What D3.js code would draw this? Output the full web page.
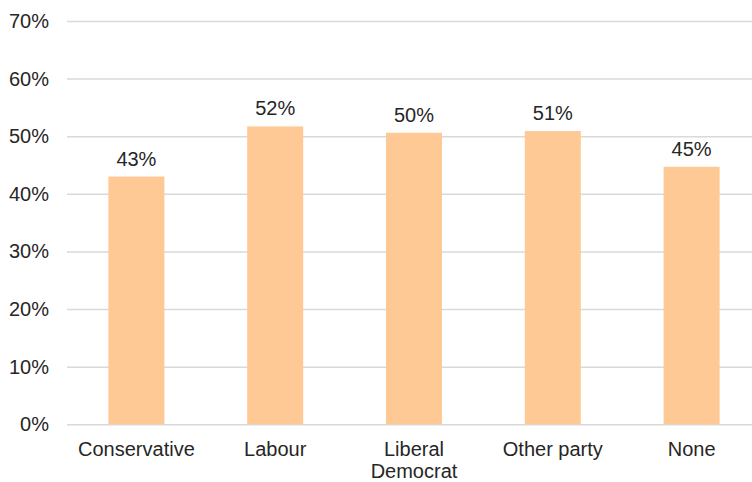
<!DOCTYPE html>
<html><head><meta charset="utf-8">
<script src="https://cdn.jsdelivr.net/npm/d3@7"></script>
<style>body{margin:0;background:#fff;}svg{display:block;font-family:"Liberation Sans",Arial,sans-serif;}</style>
</head><body><svg id="c" width="752" height="482"></svg>
<script>
const categories = [["Conservative"], ["Labour"], ["Liberal", "Democrat"], ["Other party"], ["None"]];
const values = [0.430, 0.517, 0.506, 0.509, 0.447];
const valueLabels = ["43%", "52%", "50%", "51%", "45%"];
const yTicks = [0, 0.1, 0.2, 0.3, 0.4, 0.5, 0.6, 0.7];

(function () {
const svg = d3.select("#c");
const mLeft = 67, mRight = 761, mTop = 21, mBottom = 424.3;
const fs = 20, col = "#262626";
const keys = categories.map(c => c.join(" "));
const x = d3.scaleBand().domain(keys).range([mLeft, mRight]).paddingInner(0.4).paddingOuter(0.2);
const y = d3.scaleLinear().domain([0, 0.7]).range([mBottom, mTop]);

const ya = svg.append("g").attr("transform", `translate(${mLeft},0)`)
  .call(d3.axisLeft(y).tickValues(yTicks).tickFormat(d3.format(".0%")).tickSize(-(752 - mLeft)).tickPadding(18));
ya.select(".domain").remove();
ya.selectAll(".tick line").attr("stroke", "#d9d9d9").attr("stroke-width", 1.5);
ya.selectAll(".tick text").attr("font-size", fs).attr("fill", col);

const barW = 56;
svg.selectAll("rect.bar").data(values).join("rect")
  .attr("x", (d, i) => x(keys[i]) + x.bandwidth() / 2 - barW / 2)
  .attr("width", barW)
  .attr("y", d => y(d)).attr("height", d => y(0) - y(d))
  .attr("fill", "#fec994");

svg.selectAll("text.val").data(values).join("text")
  .attr("x", (d, i) => x(keys[i]) + x.bandwidth() / 2)
  .attr("y", d => y(d) - 11)
  .attr("text-anchor", "middle").attr("font-size", fs).attr("fill", col)
  .text((d, i) => valueLabels[i]);

const xa = svg.append("g");
categories.forEach((lines, i) => {
  const cx = x(keys[i]) + x.bandwidth() / 2;
  const t = xa.append("text").attr("x", cx).attr("y", 456)
    .attr("text-anchor", "middle").attr("font-size", fs).attr("fill", col);
  lines.forEach((l, j) => t.append("tspan").attr("x", cx).attr("dy", j ? 22 : 0).text(l));
});
})();
</script></body></html>
